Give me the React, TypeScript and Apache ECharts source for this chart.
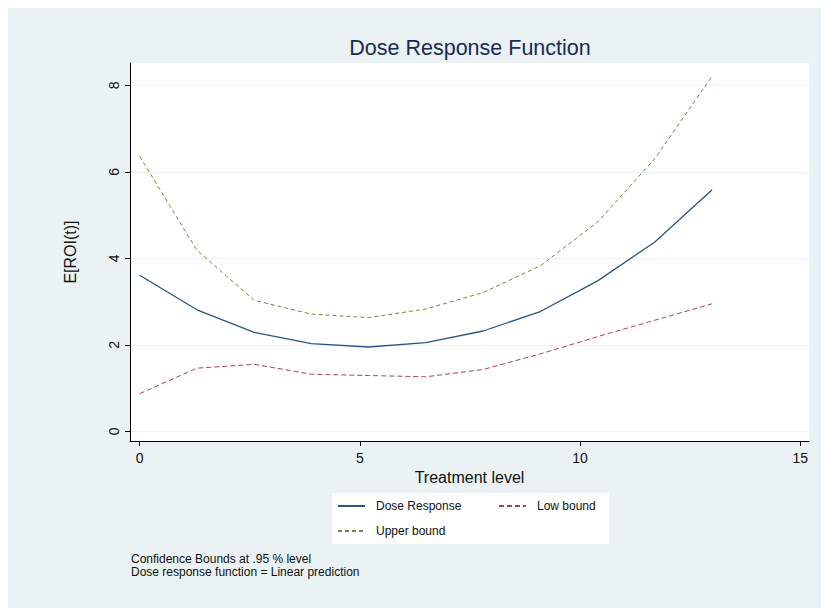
import React, { useEffect, useRef } from "react";
import * as echarts from "echarts";

const treatment = [0, 1.3, 2.6, 3.9, 5.2, 6.5, 7.8, 9.1, 10.4, 11.7, 13];
const doseResponse = [3.61, 2.81, 2.29, 2.03, 1.95, 2.05, 2.32, 2.77, 3.48, 4.38, 5.59];
const lowBound = [0.87, 1.46, 1.55, 1.32, 1.29, 1.26, 1.43, 1.79, 2.19, 2.57, 2.95];
const upperBound = [6.36, 4.19, 3.03, 2.71, 2.63, 2.83, 3.21, 3.83, 4.84, 6.31, 8.22];
const xTicks = [0, 5, 10, 15];
const yTicks = [0, 2, 4, 6, 8];
const seriesNames = ["Dose Response", "Low bound", "Upper bound"];
const titleText = "Dose Response Function";
const xTitle = "Treatment level";
const yTitle = "E[ROI(t)]";
const notes = ["Confidence Bounds at .95 % level", "Dose response function = Linear prediction"];

const FONT = "'Liberation Sans', Arial, Helvetica, sans-serif";

export default function App() {
  const ref = useRef<HTMLDivElement>(null);
  useEffect(() => {
    if (!ref.current) return;
    const chart = echarts.init(ref.current, undefined, { renderer: "svg" });
    const toPts = (vals: number[]) => treatment.map((t, i) => [t, vals[i]]);
    const legendCommon = {
      itemWidth: 27,
      itemHeight: 14,
      padding: 0,
      selectedMode: false,
      itemStyle: { opacity: 0 },
      textStyle: { fontSize: 12, color: "#111", fontFamily: FONT, padding: [0, 0, 0, 6] },
    };
    chart.setOption({
      animation: false,
      backgroundColor: "#EAF2F3",
      textStyle: { fontFamily: FONT },
      grid: {
        left: 122,
        top: 55,
        width: 679,
        height: 378,
        show: true,
        backgroundColor: "#ffffff",
        borderWidth: 0,
      },
      xAxis: {
        type: "value",
        min: -0.22,
        max: 15.2,
        name: xTitle,
        nameLocation: "middle",
        nameGap: 25,
        nameTextStyle: { fontSize: 16, color: "#111", fontFamily: FONT },
        axisLine: { show: true, onZero: false, lineStyle: { color: "#000", width: 1 } },
        axisTick: { show: true, length: 5, customValues: xTicks, lineStyle: { color: "#000" } },
        axisLabel: { customValues: xTicks, fontSize: 14, margin: 10, color: "#111", fontFamily: FONT },
        splitLine: { show: false },
      },
      yAxis: {
        type: "value",
        min: -0.225,
        max: 8.52,
        name: yTitle,
        nameLocation: "middle",
        nameGap: 52,
        nameRotate: 90,
        nameTextStyle: { fontSize: 16, color: "#111", fontFamily: FONT },
        axisLine: { show: true, onZero: false, lineStyle: { color: "#000", width: 1 } },
        axisTick: { show: true, length: 5, customValues: yTicks, lineStyle: { color: "#000" } },
        axisLabel: { customValues: yTicks, rotate: 90, fontSize: 14, margin: 9, color: "#111", fontFamily: FONT },
        splitLine: { show: true, lineStyle: { color: "#EAF2F3", width: 1 } },
      },
      legend: [
        { ...legendCommon, data: [seriesNames[0]], left: 329, top: 492 },
        { ...legendCommon, data: [seriesNames[1]], left: 490, top: 492 },
        { ...legendCommon, data: [seriesNames[2]], left: 329, top: 517 },
      ],
      graphic: [
        {
          type: "rect",
          shape: { x: 324, y: 485, width: 277, height: 51 },
          style: { fill: "#ffffff" },
          z: -1,
        },
        {
          type: "text",
          x: 462,
          y: 40,
          style: {
            text: titleText,
            fontSize: 21.5,
            fontFamily: FONT,
            fill: "#1a2a55",
            textAlign: "center",
            textVerticalAlign: "middle",
          },
        },
        {
          type: "text",
          x: 123,
          y: 551,
          style: { text: notes[0], fontSize: 12, fontFamily: FONT, fill: "#111", textVerticalAlign: "middle" },
        },
        {
          type: "text",
          x: 123,
          y: 563.5,
          style: { text: notes[1], fontSize: 12, fontFamily: FONT, fill: "#111", textVerticalAlign: "middle" },
        },
      ],
      series: [
        {
          name: seriesNames[0],
          type: "line",
          data: toPts(doseResponse),
          symbol: "none",
          lineStyle: { color: "#2a5585", width: 1.3, type: "solid" },
          itemStyle: { color: "#2a5585" },
        },
        {
          name: seriesNames[1],
          type: "line",
          data: toPts(lowBound),
          symbol: "none",
          lineStyle: { color: "#a8444e", width: 1, type: [5, 3] },
          itemStyle: { color: "#a8444e" },
        },
        {
          name: seriesNames[2],
          type: "line",
          data: toPts(upperBound),
          symbol: "none",
          lineStyle: { color: "#6a8a3f", width: 1, type: [4, 3] },
          itemStyle: { color: "#6a8a3f" },
        },
      ],
    });
    return () => chart.dispose();
  }, []);
  return <div ref={ref} style={{ width: 821, height: 600 }} />;
}
